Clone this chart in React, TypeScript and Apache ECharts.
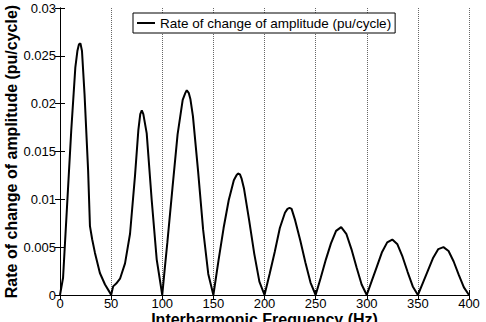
import React, { useEffect, useRef } from "react";
import * as echarts from "echarts";

// Interharmonic frequency samples (Hz)
const freqHz: number[] = [
  0, 3, 7, 11, 15, 17, 18.5, 20, 21.5, 24, 27.5, 29.3, 31.5, 34.2, 39, 44, 48.5, 50,
  52, 55, 58.7, 63.6, 68.5, 73.3, 76.6, 78.5, 80, 81.5, 84.8, 89.7, 94.6, 100,
  102.5, 105, 110, 115, 120, 122.5, 124, 126, 127.5, 130, 135, 140, 145, 150,
  155, 160, 165, 170, 172.5, 174, 176, 177.5, 180, 185, 190, 195, 200,
  205, 210, 215, 220, 222.5, 224.5, 226.5, 230, 235, 240, 245, 250,
  255, 260, 265, 270, 275, 280, 285, 290, 295, 300,
  305, 310, 315, 320, 325, 330, 335, 340, 345, 350,
  355, 360, 365, 370, 375, 380, 385, 390, 395, 400,
];

// Rate of change of amplitude (pu/cycle) at each frequency above
const rateOfChange: number[] = [
  0, 0.0018, 0.0095, 0.0172, 0.0238, 0.0255, 0.0262, 0.0263, 0.0255, 0.021, 0.013, 0.0072, 0.0058, 0.0044, 0.0023, 0.0011, 0.0003, 0,
  0.0009, 0.0012, 0.0017, 0.0033, 0.0064, 0.0124, 0.0172, 0.0189, 0.0193, 0.0189, 0.0169, 0.0099, 0.0037, 0,
  0.0028, 0.0055, 0.0112, 0.0168, 0.0204, 0.0211, 0.0214, 0.0211, 0.0205, 0.0187, 0.013, 0.0068, 0.0022, 0,
  0.0036, 0.007, 0.0099, 0.012, 0.0125, 0.0127, 0.0126, 0.0122, 0.0111, 0.0078, 0.0043, 0.0014, 0,
  0.0022, 0.0045, 0.007, 0.0086, 0.009, 0.0091, 0.009, 0.0078, 0.0057, 0.0034, 0.0013, 0,
  0.0018, 0.0037, 0.0054, 0.0067, 0.0071, 0.0064, 0.0048, 0.0029, 0.0011, 0,
  0.0015, 0.003, 0.0045, 0.0055, 0.0058, 0.0053, 0.004, 0.0024, 0.0009, 0,
  0.0013, 0.0026, 0.0039, 0.0048, 0.005, 0.0046, 0.0035, 0.0021, 0.0008, 0,
];

const seriesName = "Rate of change of amplitude (pu/cycle)";
const xAxisTitle = "Interharmonic Frequency (Hz)";
const yAxisTitle = "Rate of change of amplitude (pu/cycle)";

const FONT = "'Liberation Sans', Arial, sans-serif";

export default function App() {
  const ref = useRef<HTMLDivElement>(null);

  useEffect(() => {
    if (!ref.current) return;
    const chart = echarts.init(ref.current, undefined, { renderer: "svg" });

    const axisLine = { show: true, lineStyle: { color: "#000", width: 1 } };
    const tick = { show: true, inside: true, length: 5, lineStyle: { color: "#000" } };

    chart.setOption({
      animation: false,
      backgroundColor: "#fff",
      textStyle: { fontFamily: FONT },
      grid: {
        left: 60,
        right: 17,
        top: 8,
        bottom: 27,
        containLabel: false,
        outerBoundsMode: "none",
      },
      legend: {
        show: true,
        left: 133,
        top: 13,
        data: [{ name: seriesName, icon: "rect" }],
        itemWidth: 18,
        itemHeight: 2,
        itemGap: 5,
        padding: [3, 4, 3, 4],
        borderColor: "#000",
        borderWidth: 1,
        backgroundColor: "#fff",
        textStyle: { fontFamily: FONT, fontSize: 13.5, color: "#000" },
      },
      xAxis: [
        {
          type: "value",
          min: 0,
          max: 400,
          interval: 50,
          name: xAxisTitle,
          nameLocation: "middle",
          nameGap: 16,
          nameMoveOverlap: false,
          nameTextStyle: { fontFamily: FONT, fontSize: 16, fontWeight: "bold", color: "#000" },
          axisLine,
          axisTick: tick,
          axisLabel: { fontFamily: FONT, fontSize: 13, color: "#000", margin: 2 },
          splitLine: { show: true, lineStyle: { color: "#666", type: "dotted", width: 1 } },
        },
        {
          type: "value",
          position: "top",
          min: 0,
          max: 400,
          interval: 50,
          axisLine,
          axisTick: tick,
          axisLabel: { show: false },
          splitLine: { show: false },
        },
      ],
      yAxis: [
        {
          type: "value",
          min: 0,
          max: 0.03,
          interval: 0.005,
          name: yAxisTitle,
          nameLocation: "middle",
          nameRotate: 90,
          nameGap: 41,
          nameMoveOverlap: false,
          nameTextStyle: { fontFamily: FONT, fontSize: 16, fontWeight: "bold", color: "#000" },
          axisLine,
          axisTick: tick,
          axisLabel: {
            fontFamily: FONT,
            fontSize: 13,
            color: "#000",
            margin: 4,
            formatter: (v: number) => String(+v.toFixed(3)),
          },
          splitLine: { show: false },
        },
        {
          type: "value",
          position: "right",
          min: 0,
          max: 0.03,
          interval: 0.005,
          axisLine,
          axisTick: tick,
          axisLabel: { show: false },
          splitLine: { show: false },
        },
      ],
      series: [
        {
          name: seriesName,
          type: "line",
          xAxisIndex: 0,
          yAxisIndex: 0,
          data: freqHz.map((f, i) => [f, rateOfChange[i]]),
          showSymbol: false,
          smooth: false,
          lineStyle: { color: "#000", width: 2 },
          itemStyle: { color: "#000" },
        },
      ],
    });

    return () => chart.dispose();
  }, []);

  return (
    <div
      ref={ref}
      style={{ position: "fixed", left: 0, top: 0, width: 486, height: 322 }}
    />
  );
}
